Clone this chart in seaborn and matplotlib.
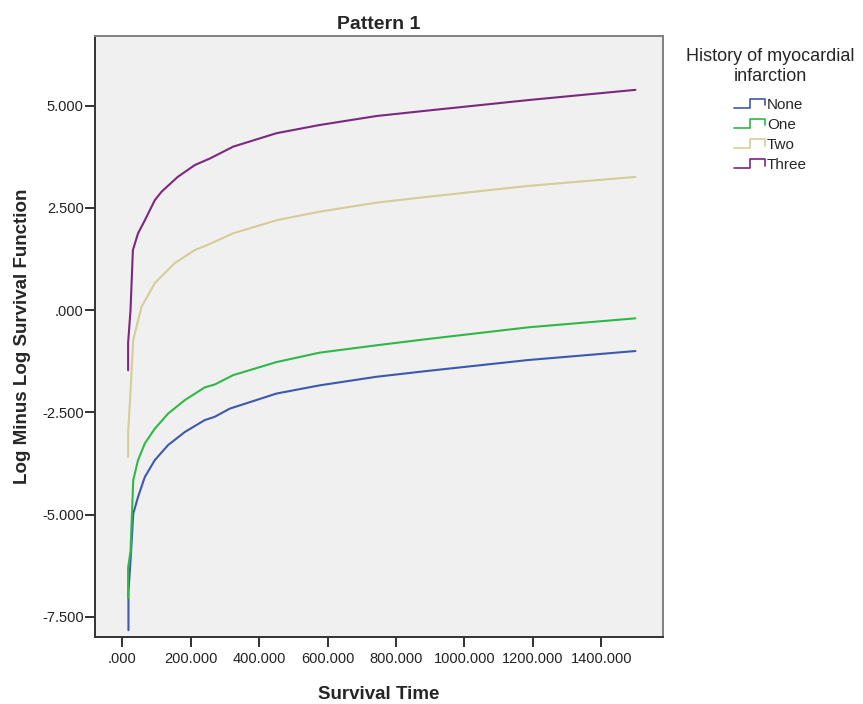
import numpy as np
import pandas as pd
import matplotlib
matplotlib.use("Agg")
import matplotlib.pyplot as plt
import seaborn as sns
from matplotlib.lines import Line2D
from matplotlib.legend_handler import HandlerBase
from matplotlib.ticker import FuncFormatter

# Values
groups = ["None", "One", "Two", "Three"]

time_none = [18, 18, 25, 32, 46, 66, 95, 134, 183, 241, 270, 314, 451, 577, 743, 889, 1187, 1500]
lml_none = [-7.83, -6.9, -6.0, -4.98, -4.57, -4.08, -3.67, -3.30, -2.98, -2.69, -2.61, -2.41,
            -2.04, -1.84, -1.63, -1.49, -1.22, -1.00]

time_one = [17, 17, 24, 32, 46, 66, 95, 134, 183, 241, 270, 324, 451, 577, 743, 889, 1187, 1500]
lml_one = [-7.05, -6.3, -5.9, -4.16, -3.67, -3.26, -2.90, -2.53, -2.20, -1.89, -1.82, -1.59,
           -1.27, -1.04, -0.86, -0.71, -0.42, -0.20]

time_two = [17, 17, 22, 32, 56, 95, 153, 212, 256, 324, 451, 577, 743, 889, 1187, 1500]
lml_two = [-3.59, -3.0, -2.3, -0.73, 0.08, 0.66, 1.15, 1.47, 1.62, 1.88, 2.20, 2.41, 2.63,
           2.77, 3.04, 3.26]

time_three = [17, 17, 24, 31, 46, 66, 95, 115, 162, 212, 256, 324, 451, 577, 743, 889, 1187, 1500]
lml_three = [-1.47, -0.8, 0.0, 1.47, 1.88, 2.20, 2.69, 2.90, 3.26, 3.55, 3.71, 4.00, 4.33,
             4.53, 4.75, 4.88, 5.14, 5.39]

colors = ["#3E58AC", "#2EB848", "#D3CE97", "#7C287D"]

xticks = [0, 200, 400, 600, 800, 1000, 1200, 1400]
yticks = [-7.5, -5.0, -2.5, 0.0, 2.5, 5.0]

frames = []
for g, t, v in zip(groups,
                   [time_none, time_one, time_two, time_three],
                   [lml_none, lml_one, lml_two, lml_three]):
    frames.append(pd.DataFrame({"time": t, "lml": v, "group": g}))
df = pd.concat(frames, ignore_index=True)

sns.set_style("white")
plt.rcParams["font.family"] = ["Liberation Sans", "DejaVu Sans"]


class StepHandler(HandlerBase):
    # SPSS-style little step glyph in the legend
    def create_artists(self, legend, orig_handle, xdescent, ydescent,
                       width, height, fontsize, trans):
        x0 = -xdescent
        y0 = -ydescent
        xs = [x0, x0 + width * 0.5, x0 + width * 0.5, x0 + width, x0 + width]
        ys = [y0 + height * 0.1, y0 + height * 0.1, y0 + height * 0.9,
              y0 + height * 0.9, y0 + height * 0.3]
        line = Line2D(xs, ys, color=orig_handle.get_color(), lw=1.2)
        line.set_transform(trans)
        return [line]


fig = plt.figure(figsize=(8.63, 7.04), dpi=100)
ax = fig.add_axes([0.110, 0.095, 0.658, 0.854])
ax.set_facecolor("#F0F0F0")

sns.lineplot(data=df, x="time", y="lml", hue="group", hue_order=groups,
             palette=colors, estimator=None, sort=False, lw=1.5,
             legend=False, ax=ax)

ax.set_xlim(-80, 1580)
ax.set_ylim(-8.0, 6.71)
ax.set_xticks(xticks)
ax.set_yticks(yticks)


def spss_fmt(v, pos):
    s = f"{v:.3f}"
    if s.startswith("0."):
        s = s[1:]
    elif s.startswith("-0."):
        s = "-" + s[2:]
    return s


ax.xaxis.set_major_formatter(FuncFormatter(spss_fmt))
ax.yaxis.set_major_formatter(FuncFormatter(spss_fmt))
ax.tick_params(axis="both", which="major", bottom=True, left=True,
               direction="out", length=7, width=1.3,
               color="#222222", labelsize=10.5, labelcolor="#222222", pad=1)
ax.tick_params(axis="x", pad=4)

for side in ["left", "bottom"]:
    ax.spines[side].set_color("#333333")
    ax.spines[side].set_linewidth(1.4)
for side in ["top", "right"]:
    ax.spines[side].set_color("#808080")
    ax.spines[side].set_linewidth(1.4)

ax.set_xlabel("Survival Time", fontsize=13.5, fontweight="bold", labelpad=14)
ax.set_ylabel("Log Minus Log Survival Function", fontsize=13.5,
              fontweight="bold", labelpad=8)
ax.set_title("Pattern 1", fontsize=14, fontweight="bold", pad=5)

handles = [Line2D([], [], color=c) for c in colors]
leg = fig.legend(handles, groups, title="History of myocardial\ninfarction",
                 loc="upper center", bbox_to_anchor=(0.893, 0.942),
                 frameon=False, fontsize=11, title_fontsize=13,
                 handlelength=2.0, handletextpad=0.15, labelspacing=0.4,
                 borderpad=0, handler_map={Line2D: StepHandler()})
leg.get_title().set_multialignment("center")
leg._legend_box.sep = 9

fig.savefig("out.png", dpi=100, facecolor="white")
